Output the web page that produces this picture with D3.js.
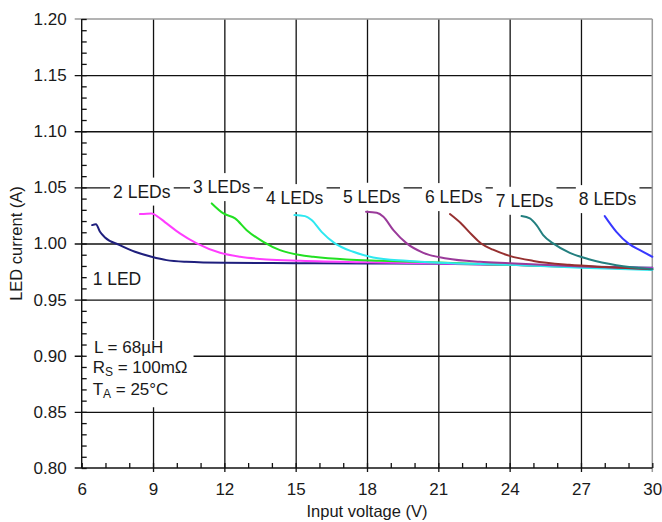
<!DOCTYPE html>
<html>
<head>
<meta charset="utf-8">
<script src="https://cdn.jsdelivr.net/npm/d3@7"></script>
<style>
  body { margin: 0; background: #fff; }
  svg { display: block; }
  text { font-family: "Liberation Sans", Arial, sans-serif; fill: #1a1a1a; }
</style>
</head>
<body>
<svg id="chart" width="662" height="522"></svg>
<script>
// LED current vs. input voltage for strings of 1..8 LEDs
const voltTicks = [6, 9, 12, 15, 18, 21, 24, 27, 30];
const currTicks = [0.80, 0.85, 0.90, 0.95, 1.00, 1.05, 1.10, 1.15, 1.20];

const seriesNames = ["1 LED", "2 LEDs", "3 LEDs", "4 LEDs", "5 LEDs", "6 LEDs", "7 LEDs", "8 LEDs"];
const seriesColors = ["#1f1f7d", "#ff3dff", "#22e022", "#2ee8f0", "#9a3a9a", "#963030", "#237f7f", "#3838ff"];

// [input voltage (V), LED current (A)]
const led1 = [[6.44,1.0164],[6.60,1.0172],[6.77,1.0104],[6.98,1.0054],[7.6,0.9986],[8.24,0.9926],[8.94,0.9882],[9.57,0.9852],[10.4,0.9837],[12,0.9828],[15,0.9825],[18,0.9822],[21,0.982],[24,0.981],[27,0.9795],[30,0.9785]];
const led2 = [[8.45,1.0262],[8.94,1.0268],[9.15,1.0247],[9.57,1.0179],[10.13,1.009],[10.84,1.0001],[11.82,0.9917],[12.66,0.9882],[13.78,0.9858],[15.2,0.9846],[18,0.9832],[21,0.9822],[24,0.981],[27,0.979],[30,0.978]];
const led3 = [[11.47,1.0357],[11.96,1.0268],[12.45,1.0224],[12.94,1.0119],[13.64,1.0015],[14.34,0.9941],[15.18,0.9897],[15.74,0.9882],[17.14,0.9858],[18.54,0.9846],[21,0.983],[24,0.981],[27,0.979],[30,0.977]];
const led4 = [[14.95,1.0253],[15.39,1.0244],[15.67,1.0209],[16.09,1.0104],[16.65,1.0001],[17.42,0.9926],[18.26,0.9876],[19.66,0.9846],[21.07,0.9828],[24,0.981],[27,0.9785],[30,0.9765]];
const led5 = [[17.96,1.0283],[18.41,1.0274],[18.69,1.0238],[19.11,1.0119],[19.67,1.0001],[20.37,0.9917],[21.35,0.9867],[22.75,0.9837],[24,0.9825],[27,0.9795],[30,0.9775]];
const led6 = [[21.49,1.0262],[22.0,1.017],[22.4,1.008],[22.8,1.0],[23.3,0.9945],[24.0,0.989],[25.0,0.9845],[26.5,0.981],[28,0.979],[30,0.977]];
const led7 = [[24.5,1.0244],[24.85,1.0224],[25.13,1.0164],[25.41,1.0075],[25.83,1.0001],[26.53,0.9917],[27.37,0.9858],[28.49,0.9807],[30,0.9772]];
const led8 = [[28.0,1.0244],[28.49,1.0104],[28.99,1.0001],[29.48,0.9941],[30,0.9882]];
const seriesData = [led1, led2, led3, led4, led5, led6, led7, led8];

// label anchors (left edge, baseline) in data units
const labelVolt = [6.46, 7.32, 10.68, 13.75, 16.99, 20.44, 23.42, 26.91];
const labelCurr = [0.9629, 1.0409, 1.0449, 1.0351, 1.0363, 1.036, 1.0327, 1.0342];

const svg = d3.select("#chart");
const plotLeft = 81.7, plotRight = 652.3, plotTop = 19, plotBottom = 468;

const x = d3.scaleLinear().domain([6, 30]).range([plotLeft, plotRight]);
const y = d3.scaleLinear().domain([0.80, 1.20]).range([plotBottom, plotTop]);

const minorVolt = d3.range(6, 31, 1);
const minorCurr = d3.range(0, 41).map(i => +(0.80 + i * 0.01).toFixed(2));

function styleAxis(g, color, width) {
  g.select(".domain").remove();
  g.selectAll(".tick line").attr("stroke", color).attr("stroke-width", width);
}

// vertical grid (major volts) extending a little below the axis as ticks
svg.append("g")
  .attr("transform", `translate(0,${plotBottom})`)
  .call(d3.axisBottom(x).tickValues(voltTicks.slice(1, -1)).tickSizeInner(4).tickSizeOuter(0).tickFormat(""))
  .call(g => styleAxis(g, "#111", 1.3))
  .call(g => g.selectAll(".tick line").attr("y1", -(plotBottom - plotTop)).attr("y2", 4));

// horizontal grid (major currents) extending a little left of the axis as ticks
svg.append("g")
  .attr("transform", `translate(${plotLeft},0)`)
  .call(d3.axisRight(y).tickValues(currTicks.slice(1, -1)).tickSizeInner(plotRight - plotLeft).tickSizeOuter(0).tickFormat(""))
  .call(g => styleAxis(g, "#111", 1.3))
  .call(g => g.selectAll(".tick line").attr("x1", -7));

// frame: grey top and right edges
svg.append("line").attr("x1", plotLeft - 7).attr("x2", plotRight).attr("y1", y(1.20)).attr("y2", y(1.20))
  .attr("stroke", "#9a9a9a").attr("stroke-width", 1.5);
svg.append("line").attr("x1", x(30)).attr("x2", x(30)).attr("y1", y(1.20)).attr("y2", y(0.80) + 4)
  .attr("stroke", "#9a9a9a").attr("stroke-width", 1.5);

// white boxes behind the in-plot labels are added once the text is measured
const boxLayer = svg.append("g");

// minor ticks
svg.append("g")
  .attr("transform", `translate(${plotLeft},0)`)
  .call(d3.axisRight(y).tickValues(minorCurr).tickSize(5).tickFormat(""))
  .call(g => styleAxis(g, "#111", 1.3));
svg.append("g")
  .attr("transform", `translate(0,${plotBottom})`)
  .call(d3.axisTop(x).tickValues(minorVolt).tickSize(5).tickFormat(""))
  .call(g => styleAxis(g, "#111", 1.3));

// axis lines
svg.append("line").attr("x1", plotLeft).attr("x2", plotLeft).attr("y1", plotTop).attr("y2", plotBottom)
  .attr("stroke", "#111").attr("stroke-width", 1.4);
svg.append("line").attr("x1", plotLeft - 7).attr("x2", plotRight).attr("y1", plotBottom).attr("y2", plotBottom)
  .attr("stroke", "#111").attr("stroke-width", 1.4);

// tick labels
svg.append("g")
  .attr("transform", `translate(${plotLeft},0)`)
  .call(d3.axisLeft(y).tickValues(currTicks).tickSize(7).tickPadding(8).tickFormat(d3.format(".2f")))
  .call(g => { g.select(".domain").remove(); g.selectAll(".tick line").remove(); })
  .call(g => g.selectAll("text").attr("font-size", 17).attr("font-family", null).attr("fill", "#1a1a1a"));
svg.append("g")
  .attr("transform", `translate(0,${plotBottom})`)
  .call(d3.axisBottom(x).tickValues(voltTicks).tickSize(4).tickPadding(11).tickFormat(d3.format("d")))
  .call(g => { g.select(".domain").remove(); g.selectAll(".tick line").remove(); })
  .call(g => g.selectAll("text").attr("font-size", 17).attr("font-family", null).attr("fill", "#1a1a1a"));

// axis titles
svg.append("text").attr("x", (plotLeft + plotRight) / 2).attr("y", 517)
  .attr("text-anchor", "middle").attr("font-size", 16.5).text("Input voltage (V)");
svg.append("text").attr("transform", `translate(22,${(plotTop + plotBottom) / 2}) rotate(-90)`)
  .attr("text-anchor", "middle").attr("font-size", 16.5).text("LED current (A)");

// curves
const line = d3.line().x(d => x(d[0])).y(d => y(d[1])).curve(d3.curveMonotoneX);
svg.append("g").selectAll("path").data(seriesData).join("path")
  .attr("d", line)
  .attr("fill", "none")
  .attr("stroke", (d, i) => seriesColors[i])
  .attr("stroke-width", 2)
  .attr("stroke-linejoin", "round")
  .attr("stroke-linecap", "round");

// series labels
const labels = svg.append("g").selectAll("text").data(seriesNames).join("text")
  .attr("x", (d, i) => x(labelVolt[i]))
  .attr("y", (d, i) => y(labelCurr[i]))
  .attr("font-size", 17.5)
  .text(d => d);
labels.each(function (d, i) {
  if (i === 0) return;
  const b = this.getBBox();
  boxLayer.append("rect")
    .attr("x", b.x - 3).attr("y", b.y - 4)
    .attr("width", b.width + 6).attr("height", b.height + 8)
    .attr("fill", "#fff");
});

// test conditions
const cond = svg.append("text").attr("font-size", 17);
cond.append("tspan").attr("x", x(6.52)).attr("y", y(0.9023)).text("L = 68\u00b5H");
const rs = cond.append("tspan").attr("x", x(6.46)).attr("y", y(0.8844));
rs.append("tspan").text("R");
rs.append("tspan").attr("font-size", 12).attr("dy", 3).text("S");
rs.append("tspan").attr("dy", -3).text(" = 100m\u03a9");
const ta = cond.append("tspan").attr("x", x(6.46)).attr("y", y(0.8648));
ta.append("tspan").text("T");
ta.append("tspan").attr("font-size", 12).attr("dy", 3).text("A");
ta.append("tspan").attr("dy", -3).text(" = 25\u00b0C");
const cb = cond.node().getBBox();
boxLayer.append("rect")
  .attr("x", plotLeft + 1).attr("y", cb.y + 2)
  .attr("width", cb.x + cb.width + 6 - plotLeft - 1).attr("height", cb.height + 4)
  .attr("fill", "#fff");
</script>
</body>
</html>
